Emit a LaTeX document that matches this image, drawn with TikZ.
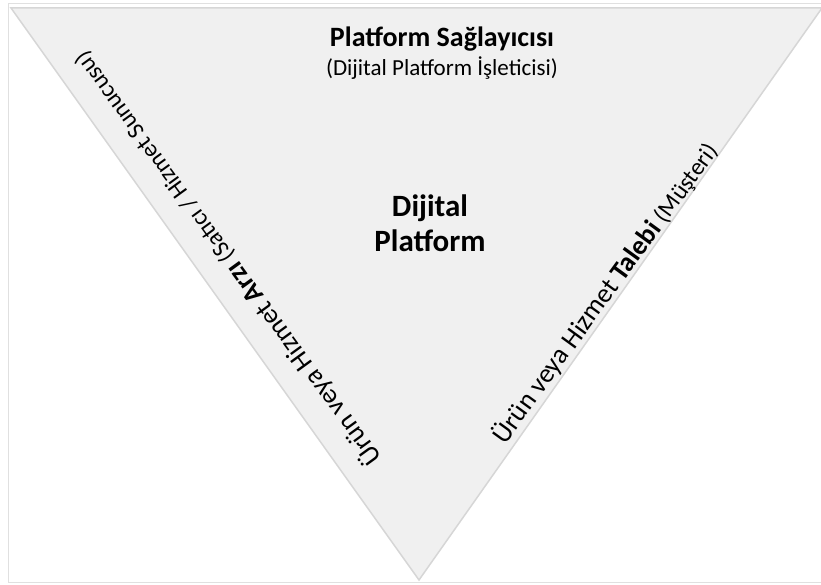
\documentclass[tikz,border=0pt]{standalone}
\usepackage{fontspec}
\setmainfont{Carlito}

\begin{document}
\begin{tikzpicture}[x=1pt, y=-1pt,
	edgelabel/.style={inner sep=0pt, font=\fontsize{27}{31}\selectfont},
	smalltext/.style={font=\fontsize{23}{27}\selectfont}]
	\useasboundingbox (0,0) rectangle (821,585);
	\draw[black!12, line width=1pt] (8,4) rectangle (826,582);
	\coordinate (tl) at (11,8);
	\coordinate (tr) at (822,8);
	\coordinate (bot) at (419,580);
	\draw[fill=black!6, draw=black!16, line width=1.5pt] (tl) -- (tr) -- (bot) -- cycle;
	\node[font=\fontsize{28}{32}\selectfont\bfseries] (provider) at (442,39) {Platform Sağlayıcısı};
	\node[smalltext] (operator) at (442,68) {(Dijital Platform İşleticisi)};
	\node[align=center, font=\fontsize{31}{35}\selectfont\bfseries] (platform) at (430,223) {Dijital\\Platform};
	\node[edgelabel, rotate=126] (supply) at (227,259) {Ürün veya Hizmet \textbf{Arzı} {\fontsize{24}{28}\selectfont(Satıcı / Hizmet Sunucusu)}};
	\node[edgelabel, rotate=54] (demand) at (605,293) {Ürün veya Hizmet \textbf{Talebi} {\fontsize{24}{28}\selectfont(Müşteri)}};
\end{tikzpicture}
\end{document}
